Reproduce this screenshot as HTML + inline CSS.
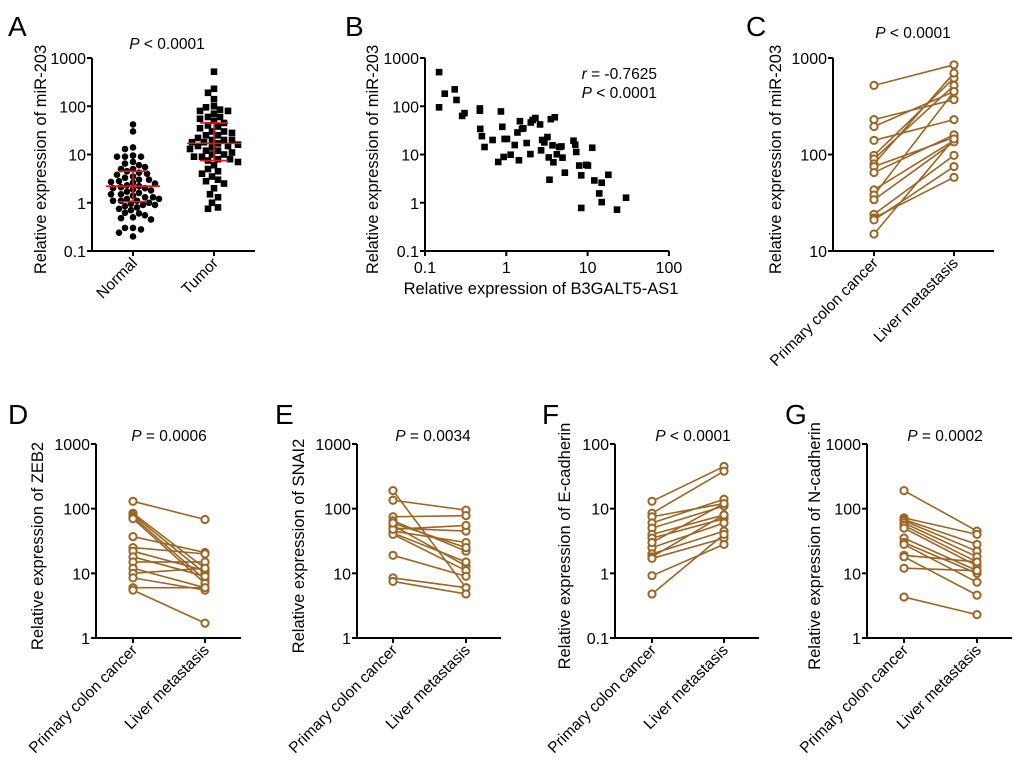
<!DOCTYPE html>
<html><head><meta charset="utf-8">
<style>
html,body{margin:0;padding:0;background:#fff;}
svg{display:block;font-family:"Liberation Sans",Arial,sans-serif;}
</style></head>
<body>
<svg id="fig" width="1020" height="762" viewBox="0 0 1020 762" xmlns="http://www.w3.org/2000/svg"></svg>
<script>
// ---------- Panel A data ----------
const normalValues = [42,30,14,13,9.5,9,9,9,7,6,5.5,5,4.5,4.2,4,3.5,3.3,3,3,2.8,2.7,2.6,2.5,2.3,2.2,2.1,2,2,1.9,1.8,1.7,1.6,1.5,1.4,1.3,1.2,1.2,1.1,1.1,1.1,1.0,0.95,0.9,0.85,0.8,0.7,0.62,0.6,0.55,0.5,0.48,0.45,0.3,0.3,0.28,0.24,0.2,6.5,5,3.8,1.5,1.3,0.9,0.75];
const tumorValues = [520,230,190,140,100,95,85,80,80,70,60,60,55,50,45,40,38,35,30,28,25,22,20,20,20,18,18,17,16,15,14,13,12,11,10,10,9,9,8,8,7.5,7,6,5,4.5,4,3.5,3,2.8,2.5,2,1.5,1.3,1.0,0.8,0.75,12,15,25,30];
const normalStats = [2.2,1.05,4.5];   // median, low, high
const tumorStats = [17,7.5,45];
const aCategories = ["Normal","Tumor"];
const logTicks3 = ["0.1","1","10","100","1000"];
// ---------- Panel B data ----------
const bX = [0.149,0.149,0.175,0.232,0.244,0.286,0.306,0.473,0.473,0.478,0.501,0.540,0.678,0.796,0.859,0.893,0.927,0.954,1.02,1.13,1.27,1.43,1.37,1.47,1.56,1.62,1.78,1.98,2.00,2.11,2.28,2.60,2.68,2.76,2.94,3.21,3.33,3.40,3.53,3.70,3.80,3.95,4.18,4.47,4.77,4.91,5.25,6.71,7.05,7.25,7.89,8.35,8.35,9.63,10.1,11.4,12.1,13.9,14.9,14.9,18.0,23.0,29.7];
const bY = [510,95,182,224,135,63,72,81,90,34,24,14.3,20,7.0,78,37.5,8.9,21,21,9.9,15.7,7.6,28.6,49,34,35,17.3,10.2,46,52,57,42,12.2,20,17.8,23,8.7,3.0,54,15.5,6.9,59,10.1,14.3,14.7,8.6,4.2,19.3,16,11.3,5.9,3.7,0.78,6.1,5.9,13.8,2.9,1.56,2.6,1.03,3.8,0.72,1.27];
const bXTicks = ["0.1","1","10","100"];
// ---------- Paired panels data ----------
const pairCategories = ["Primary colon cancer","Liver metastasis"];
const cPrimary = [520,230,195,140,98,90,80,75,65,43,38,34,24,22,21,15];
const cLiver   = [850,370,450,230,620,520,700,150,160,140,450,135,98,58,75,145];
const dPrimary = [130,85,80,75,70,37,25,22,18,15,12,10,8.5,6,5.5];
const dLiver   = [68,12,10,8,7,21,20,11,9,15,6,12,5.5,6,1.7];
const ePrimary = [190,135,75,65,55,50,45,42,40,19,8.5,7.5,48,60];
const eLiver   = [6,95,78,22,13,45,30,15,11,9,6,4.8,55,25];
const fPrimary = [13,8.5,7.5,6,5,4,3.5,2.5,2,1.8,1.7,0.92,0.48,3];
const fLiver   = [45,38,12,14,11,8,7,6,4.5,8,3.5,2.8,4,12];
const gPrimary = [190,72,68,65,60,55,50,35,30,28,19,18,12,4.3];
const gLiver   = [45,40,28,22,18,15,13,11,10,7.3,15,4.6,11,2.3];

const NS="http://www.w3.org/2000/svg";
const svg=document.getElementById('fig');
function el(tag,attrs,parent){const e=document.createElementNS(NS,tag);for(const k in attrs)e.setAttribute(k,attrs[k]);(parent||svg).appendChild(e);return e;}
function txt(s,attrs,parent){const t=el('text',attrs,parent);t.textContent=s;return t;}
const BROWN="#9b6624";
const TICKF=16, TITLEF=16.5, XLABF=15.5, PF=15.5;

function logScale(minExp,maxExp,yBottom,yTop){return v=>yBottom-(Math.log10(v)-minExp)/(maxExp-minExp)*(yBottom-yTop);}

function yAxis(g,x,yTop,yBottom,minExp,maxExp,title,titleX){
  const ys=logScale(minExp,maxExp,yBottom,yTop);
  const ax=el('line',{x1:x,y1:yTop,x2:x,y2:yBottom,stroke:'#000','stroke-width':2},g);
  
  for(let e=minExp;e<=maxExp;e++){
    const v=Math.pow(10,e), y=ys(v);
    el('line',{x1:x-5,y1:y,x2:x,y2:y,stroke:'#000','stroke-width':2},g);
    const lab=logTicks3[e+1];
    const t=txt(lab,{x:x-6,y:y+6,'text-anchor':'end','font-size':TICKF},g);
    
  }
  const cy=(yTop+yBottom)/2+5;
  const tt=txt(title,{x:titleX,y:cy,'text-anchor':'middle','font-size':TITLEF,transform:`rotate(-90 ${titleX} ${cy})`},g);
  
  return ys;
}
function xAxisCat(g,x0,x1,y,cats,cxs){
  const ax=el('line',{x1:x0,y1:y,x2:x1,y2:y,stroke:'#000','stroke-width':2},g);
  
  cats.forEach((c,i)=>{
    el('line',{x1:cxs[i],y1:y,x2:cxs[i],y2:y+5,stroke:'#000','stroke-width':2},g);
    const tx=cxs[i]+5, ty=y+13;
    const t=txt(c,{x:tx,y:ty,'text-anchor':'end','font-size':XLABF,transform:`rotate(-45 ${tx} ${ty})`},g);
    
  });
}
function panelLetter(g,s,x,y){const t=txt(s,{x:x,y:y,'font-size':28},g);}
function pText(g,rest,x,y,anchor){
  const t=el('text',{x:x,y:y,'text-anchor':anchor||'middle','font-size':PF},g);
  
  const a=document.createElementNS(NS,'tspan');a.setAttribute('font-style','italic');a.textContent='P';t.appendChild(a);
  const b=document.createElementNS(NS,'tspan');b.textContent=' '+rest;t.appendChild(b);
}

// swarm layout
function swarm(vals,ys,cx,d,step){
  const idx=vals.map((v,i)=>i).sort((a,b)=>vals[b]-vals[a]);
  const placed=[];const out=new Array(vals.length);
  idx.forEach(i=>{
    const y=ys(vals[i]);let k=0,x;
    while(k<40){
      const off=(k%2===0?1:-1)*Math.ceil(k/2)*step;x=cx+off;
      if(!placed.some(p=>(p[0]-x)**2+(p[1]-y)**2<d*d))break;k++;
    }
    placed.push([x,y]);out[i]=[x,y];
  });
  return out;
}

// ---------- Panel A ----------
(function(){
  const g=el('g',{});
  panelLetter(g,'A',8,36);
  pText(g,'< 0.0001',167,49);
  const ys=yAxis(g,92,58,251,-1,3,'Relative expression of miR-203',46);
  const cx=[133,214];
  xAxisCat(g,92,255,251,aCategories,cx);
  swarm(normalValues,ys,cx[0],6.2,2).forEach(p=>{const c=el('circle',{cx:p[0],cy:p[1],r:3.3,fill:'#000'},g);});
  swarm(tumorValues,ys,cx[1],6.8,2).forEach(p=>{const r=el('rect',{x:p[0]-3.3,y:p[1]-3.3,width:6.6,height:6.6,fill:'#000'},g);});
  [[normalStats,cx[0]],[tumorStats,cx[1]]].forEach(([s,x])=>{
    const m=el('line',{x1:x-27,x2:x+27,y1:ys(s[0]),y2:ys(s[0]),stroke:'#e8141c','stroke-width':1.6},g);
    
    el('line',{x1:x,x2:x,y1:ys(s[1]),y2:ys(s[2]),stroke:'#e8141c','stroke-width':1.6},g);
    el('line',{x1:x-14,x2:x+14,y1:ys(s[1]),y2:ys(s[1]),stroke:'#e8141c','stroke-width':1.6},g);
    el('line',{x1:x-14,x2:x+14,y1:ys(s[2]),y2:ys(s[2]),stroke:'#e8141c','stroke-width':1.6},g);
  });
})();

// ---------- Panel B ----------
(function(){
  const g=el('g',{});
  panelLetter(g,'B',345,36);
  const ys=yAxis(g,425,58,251,-1,3,'Relative expression of miR-203',378);
  const xs=v=>425+(Math.log10(v)+1)*81.3;
  const ax=el('line',{x1:425,y1:251,x2:669,y2:251,stroke:'#000','stroke-width':2},g);
  
  bXTicks.forEach((l,i)=>{const x=xs(Math.pow(10,i-1));el('line',{x1:x,x2:x,y1:251,y2:256,stroke:'#000','stroke-width':2},g);
    const t=txt(l,{x:x,y:273,'text-anchor':'middle','font-size':TICKF},g);});
  const xt=txt('Relative expression of B3GALT5-AS1',{x:541,y:294,'text-anchor':'middle','font-size':TITLEF},g);
  
  bX.forEach((v,i)=>{const r=el('rect',{x:xs(v)-3.3,y:ys(bY[i])-3.3,width:6.6,height:6.6,fill:'#000'},g);});
  const rt=el('text',{x:657,y:79,'text-anchor':'end','font-size':PF},g);
  
  const a=document.createElementNS(NS,'tspan');a.setAttribute('font-style','italic');a.textContent='r';rt.appendChild(a);
  const b=document.createElementNS(NS,'tspan');b.textContent=' = -0.7625';rt.appendChild(b);
  pText(g,'< 0.0001',657,98,'end');
})();

// ---------- Paired panels ----------
function paired(name,letter,lx,ly,pstr,px,py,axX,yTop,yBot,minE,maxE,title,titleX,cxs,xEnd,prim,liv){
  const g=el('g',{});
  panelLetter(g,letter,lx,ly);
  pText(g,pstr,px,py);
  const ys=yAxis(g,axX,yTop,yBot,minE,maxE,title,titleX);
  xAxisCat(g,axX,xEnd,yBot,pairCategories,cxs);
  prim.forEach((v,i)=>{const l=el('line',{x1:cxs[0],y1:ys(v),x2:cxs[1],y2:ys(liv[i]),stroke:BROWN,'stroke-width':1.6},g);});
  prim.forEach((v,i)=>{
    [[cxs[0],v],[cxs[1],liv[i]]].forEach(([x,val])=>{const c=el('circle',{cx:x,cy:ys(val),r:3.6,fill:'#fff',stroke:BROWN,'stroke-width':2},g);});
  });
}
paired('panel-c','C',746,36,'< 0.0001',913,38,833,58,251,1,3,'Relative expression of miR-203',781,[874,954],994,cPrimary,cLiver);
paired('panel-d','D',8,424,'= 0.0006',169,441,96,444,638,0,3,'Relative expression of ZEB2',43,[133,205],241,dPrimary,dLiver);
paired('panel-e','E',275,424,'= 0.0034',433,441,357,444,638,0,3,'Relative expression of SNAI2',304,[393,466],501,ePrimary,eLiver);
paired('panel-f','F',542,424,'< 0.0001',693,441,615,444,638,-1,2,'Relative expression of E-cadherin',570,[652,724],759,fPrimary,fLiver);
paired('panel-g','G',785,424,'= 0.0002',945,441,867,444,638,0,3,'Relative expression of N-cadherin',820,[904,977],1012,gPrimary,gLiver);
</script>
</body></html>
